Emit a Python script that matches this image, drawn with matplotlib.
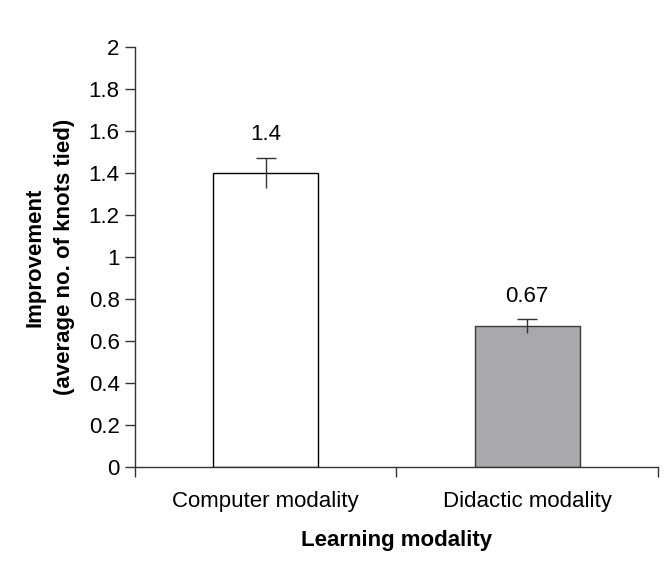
import matplotlib.pyplot as plt

plt.rcParams['font.family'] = ['Liberation Sans', 'DejaVu Sans']

# data
categories = ["Computer modality", "Didactic modality"]
means = [1.4, 0.67]
errors = [0.07, 0.033]
labels = ["1.4", "0.67"]
colors = ["white", "#a7a9ac"]
edges = ["black", "#3a3a3a"]

fs = 16

fig = plt.figure(figsize=(6.68, 5.79), dpi=100)
ax = fig.add_axes([0.202, 0.193, 0.783, 0.726])

x = list(range(len(categories)))
ax.bar(x, means, width=0.4, color=colors, edgecolor=edges, linewidth=1.0, zorder=2)

# error bars: line through the value, cap on top only
ax.errorbar(x, means, yerr=errors, fmt="none", ecolor="#333333", elinewidth=1.0,
            capsize=0, zorder=3)
tops = [m + e for m, e in zip(means, errors)]
ax.plot(x, tops, linestyle="none", marker="_", markersize=14, markeredgewidth=1.0,
        color="#333333", zorder=3)

for xi, t, lab in zip(x, tops, labels):
    ax.text(xi, t + 0.085, lab, ha="center", va="baseline", fontsize=fs)

ax.set_xlim(-0.5, 1.5)
ax.set_ylim(0, 2)
ax.set_yticks([i * 0.2 for i in range(11)])
ax.set_yticklabels(["0", "0.2", "0.4", "0.6", "0.8", "1", "1.2", "1.4", "1.6", "1.8", "2"])
ax.set_xticks([-0.5, 0.5, 1.5])
ax.set_xticklabels([])
ax.set_xticks(x, minor=True)
ax.set_xticklabels(categories, minor=True, fontsize=fs)
ax.tick_params(axis="x", which="minor", length=0, pad=17)
ax.tick_params(axis="x", which="major", direction="out", length=7, width=1.0,
               color="#333333")
ax.tick_params(axis="y", direction="out", length=7, width=1.0, labelsize=fs, pad=4,
               color="#333333")

for s in ["top", "right"]:
    ax.spines[s].set_visible(False)
for s in ["left", "bottom"]:
    ax.spines[s].set_linewidth(1.0)
    ax.spines[s].set_color("#333333")

ax.set_xlabel("Learning modality", fontsize=fs, fontweight="bold", labelpad=13)
ax.set_ylabel("Improvement\n(average no. of knots tied)", fontsize=fs,
              fontweight="bold", labelpad=10, linespacing=1.5)

fig.savefig("out.png", dpi=100)
